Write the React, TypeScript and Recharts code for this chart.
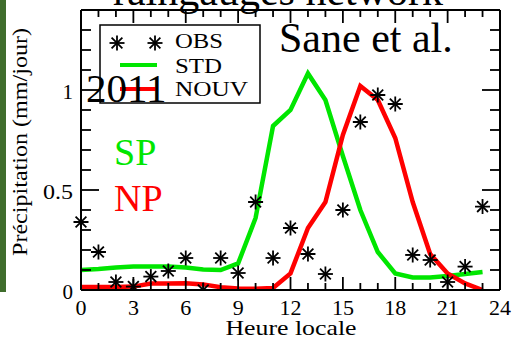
import { ComposedChart, Line, XAxis, YAxis, ReferenceLine } from 'recharts'

const hours = [0, 1, 2, 3, 4, 5, 6, 7, 8, 9, 10, 11, 12, 13, 14, 15, 16, 17, 18, 19, 20, 21, 22, 23]
const obs = [0.34, 0.19, 0.04, 0.017, 0.067, 0.095, 0.16, 0.0, 0.16, 0.085, 0.44, 0.16, 0.31, 0.18, 0.08, 0.4, 0.84, 0.975, 0.93, 0.175, 0.15, 0.04, 0.117, 0.417]
const std = [0.1, 0.105, 0.112, 0.117, 0.118, 0.117, 0.112, 0.103, 0.1, 0.133, 0.36, 0.82, 0.9, 1.083, 0.95, 0.67, 0.4, 0.19, 0.083, 0.063, 0.063, 0.07, 0.08, 0.09]
const nouv = [0.015, 0.015, 0.015, 0.017, 0.032, 0.033, 0.034, 0.028, 0.014, 0.008, 0.006, 0.01, 0.083, 0.31, 0.44, 0.775, 1.02, 0.95, 0.76, 0.44, 0.18, 0.083, 0.033, 0.0]

const xTicks = [0, 1, 2, 3, 4, 5, 6, 7, 8, 9, 10, 11, 12, 13, 14, 15, 16, 17, 18, 19, 20, 21, 22, 23, 24]
const yTicks = [0, 0.1, 0.2, 0.3, 0.4, 0.5, 0.6, 0.7, 0.8, 0.9, 1, 1.1, 1.2, 1.3, 1.4]
const yLabels: Record<string, string> = { '0': '0', '0.5': '0.5', '1': '1' }

const GREEN = '#00e600'
const RED = '#ff0000'
const FONT = '"Liberation Serif", "DejaVu Serif", serif'

// plot box
const TOP = 10
const BOTTOM = 290
const LEFT = 81
const RIGHT = 500

const data = hours.map((h, i) => ({ h, obs: obs[i], std: std[i], nouv: nouv[i] }))

function Star({ cx, cy, r = 7.5 }: { cx: number; cy: number; r?: number }) {
    const d = r * 0.72
    return (
        <g stroke="#000" strokeWidth={1.8}>
            <line x1={cx - r} y1={cy} x2={cx + r} y2={cy} />
            <line x1={cx} y1={cy - r} x2={cx} y2={cy + r} />
            <line x1={cx - d} y1={cy - d} x2={cx + d} y2={cy + d} />
            <line x1={cx - d} y1={cy + d} x2={cx + d} y2={cy - d} />
        </g>
    )
}

function XTick(props: any) {
    const { x, payload } = props
    const v = payload.value
    const major = v % 3 === 0
    const len = major ? 13 : 7
    return (
        <g>
            <line x1={x} y1={BOTTOM} x2={x} y2={BOTTOM - len} stroke="#000" strokeWidth={1.8} />
            <line x1={x} y1={TOP} x2={x} y2={TOP + len} stroke="#000" strokeWidth={1.8} />
            {major && (
                <text x={x} y={315} textAnchor="middle" fontFamily={FONT} fontSize={22} fill="#000">
                    {v}
                </text>
            )}
        </g>
    )
}

function YTick(props: any) {
    const { y, payload } = props
    const v = Math.round(payload.value * 10) / 10
    const label = yLabels[String(v)]
    const len = label !== undefined ? 18 : 10
    return (
        <g>
            <line x1={LEFT} y1={y} x2={LEFT + len} y2={y} stroke="#000" strokeWidth={1.8} />
            <line x1={RIGHT} y1={y} x2={RIGHT - len} y2={y} stroke="#000" strokeWidth={1.8} />
            {label !== undefined && (
                <text
                    x={73}
                    y={y + 9}
                    textAnchor="end"
                    fontFamily={FONT}
                    fontSize={21}
                    fill="#000"
                    {...(label === '0.5' ? { textLength: 30, lengthAdjust: 'spacingAndGlyphs' } : {})}
                >
                    {label}
                </text>
            )}
        </g>
    )
}

export default function App() {
    return (
        <div style={{ position: 'absolute', left: 0, top: 0, width: 514, height: 341, background: '#fff' }}>
            <ComposedChart width={514} height={341} data={data} margin={{ top: TOP, right: 14, bottom: 0, left: 0 }}>
                <XAxis
                    dataKey="h"
                    type="number"
                    domain={[0, 24]}
                    ticks={xTicks}
                    interval={0}
                    height={51}
                    tickLine={false}
                    axisLine={{ stroke: '#000', strokeWidth: 2 }}
                    tick={XTick}
                />
                <YAxis
                    type="number"
                    domain={[0, 1.4]}
                    ticks={yTicks}
                    interval={0}
                    width={81}
                    tickLine={false}
                    axisLine={{ stroke: '#000', strokeWidth: 2 }}
                    tick={YTick}
                    allowDataOverflow
                />
                <ReferenceLine y={1.4} stroke="#000" strokeWidth={2} ifOverflow="extendDomain" />
                <ReferenceLine x={24} stroke="#000" strokeWidth={2} />
                <Line dataKey="std" stroke={GREEN} strokeWidth={4.5} dot={false} isAnimationActive={false} />
                <Line dataKey="nouv" stroke={RED} strokeWidth={4.5} dot={false} isAnimationActive={false} />
                <Line
                    dataKey="obs"
                    stroke="none"
                    isAnimationActive={false}
                    dot={(p: any) => <Star key={`s-${p.index}`} cx={p.cx} cy={p.cy} />}
                />
            </ComposedChart>
            <svg
                width={514}
                height={341}
                style={{ position: 'absolute', left: 0, top: 0, pointerEvents: 'none' }}
                fontFamily={FONT}
            >
                <rect x={0} y={0} width={6} height={292} fill="#3f6d2c" />
                <text x={278} y={5} textAnchor="middle" fontSize={42} fill="#000">
                    raingauges network
                </text>
                <text x={279} y={52} fontSize={42} fill="#000">
                    Sane et al.
                </text>
                <rect x={100} y={25} width={160} height={78} fill="#fff" stroke="#000" strokeWidth={1.5} />
                <Star cx={117} cy={43} />
                <Star cx={155} cy={43} />
                <text x={175} y={48} fontSize={20} textLength={48} lengthAdjust="spacingAndGlyphs">OBS</text>
                <line x1={120} y1={65} x2={157} y2={65} stroke={GREEN} strokeWidth={4} />
                <text x={175} y={73} fontSize={20} textLength={47} lengthAdjust="spacingAndGlyphs">STD</text>
                <line x1={120} y1={89} x2={157} y2={89} stroke={RED} strokeWidth={4} />
                <text x={175} y={96} fontSize={20} textLength={73} lengthAdjust="spacingAndGlyphs">NOUV</text>
                <text x={86} y={102} fontSize={41} fill="#000">2011</text>
                <text x={114} y={165} fontSize={38} fill={GREEN}>SP</text>
                <text x={114} y={211} fontSize={38} fill={RED}>NP</text>
                <text x={291} y={335} textAnchor="middle" fontSize={21} textLength={131} lengthAdjust="spacingAndGlyphs">
                    Heure locale
                </text>
                <text
                    x={27}
                    y={142}
                    textAnchor="middle"
                    fontSize={22}
                    transform="rotate(-90 27 142)"
                    textLength={228}
                    lengthAdjust="spacingAndGlyphs"
                >
                    Précipitation (mm/jour)
                </text>
            </svg>
        </div>
    )
}
